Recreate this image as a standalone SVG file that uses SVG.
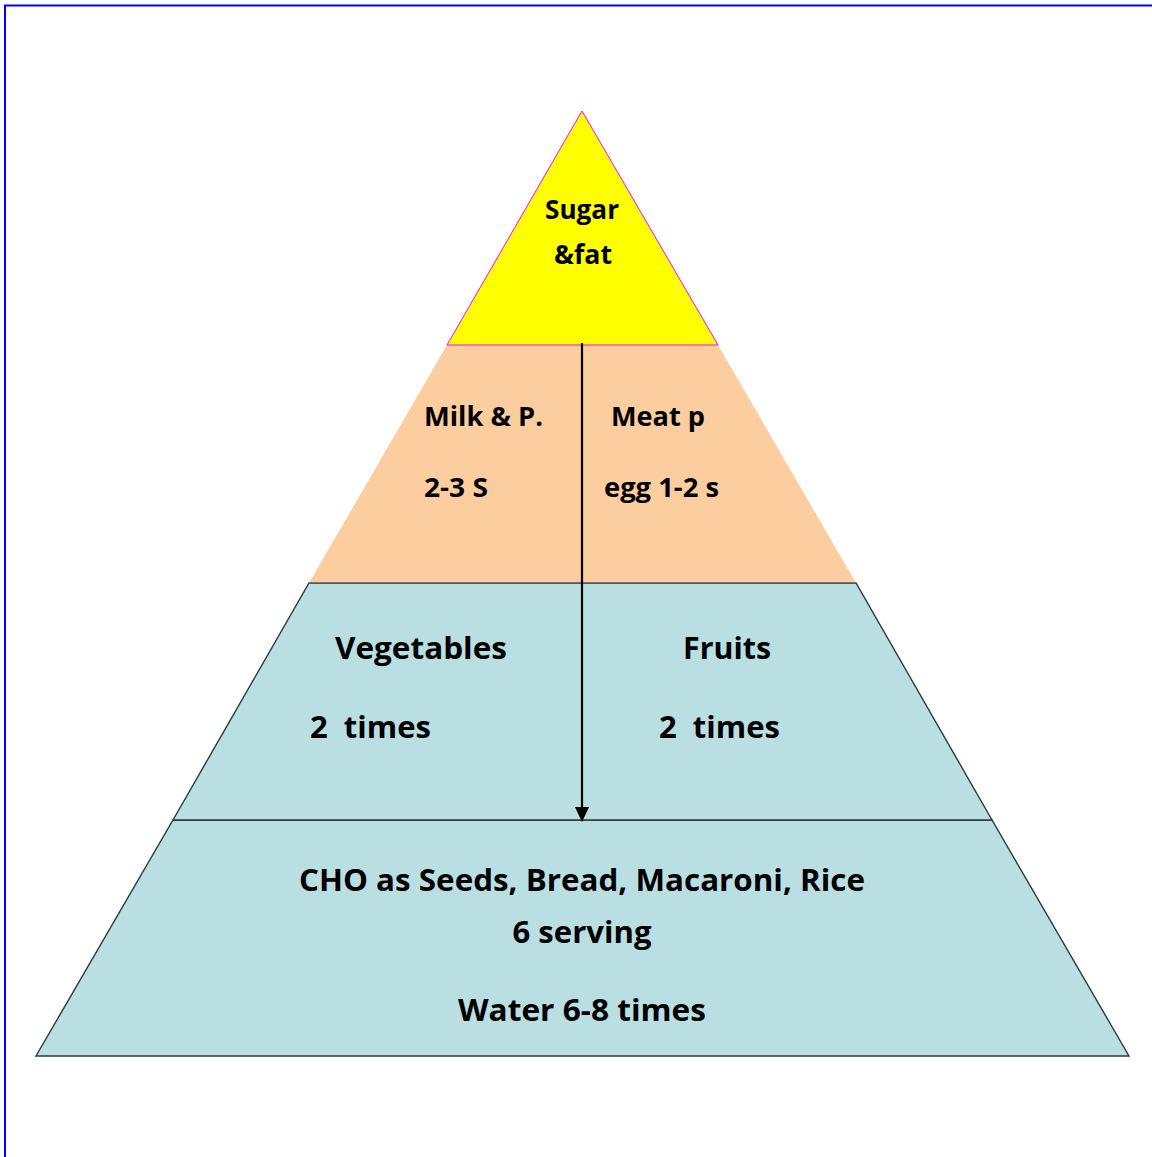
<svg xmlns="http://www.w3.org/2000/svg" width="1152" height="1157" viewBox="0 0 1152 1157" xml:space="preserve">
<style>
  .t { font-family: "Open Sans", "Liberation Sans", sans-serif; font-weight: bold; fill: #000; white-space: pre; }
  .s24 { font-size: 26px; }
  .s28 { font-size: 30px; }
  .tier { stroke: #2b3a3a; stroke-width: 1.4; }
</style>
<rect width="1152" height="1157" fill="#ffffff"/>
<path d="M5,1157 V5.5 H1152" fill="none" stroke="#0000ff" stroke-width="2"/>

<g id="tier-bottom">
  <polygon class="tier" points="173,820 992,820 1129,1056 36,1056" fill="#b9dfe2"/>
  <text class="t s28" x="582" y="891" text-anchor="middle" textLength="566" lengthAdjust="spacingAndGlyphs">CHO as Seeds, Bread, Macaroni, Rice</text>
  <text class="t s28" x="582" y="943" text-anchor="middle" textLength="139" lengthAdjust="spacingAndGlyphs">6 serving</text>
  <text class="t s28" x="582" y="1021" text-anchor="middle" textLength="248" lengthAdjust="spacingAndGlyphs">Water 6-8 times</text>
</g>

<g id="tier-veg-fruits">
  <polygon class="tier" points="309,583 856,583 992,820 173,820" fill="#b9dfe2"/>
  <text class="t s28" x="335" y="659" textLength="172" lengthAdjust="spacingAndGlyphs">Vegetables</text>
  <text class="t s28" x="310" y="738" textLength="121" lengthAdjust="spacingAndGlyphs">2  times</text>
  <text class="t s28" x="683" y="659" textLength="88" lengthAdjust="spacingAndGlyphs">Fruits</text>
  <text class="t s28" x="659" y="738" textLength="121" lengthAdjust="spacingAndGlyphs">2  times</text>
</g>

<g id="tier-milk-meat">
  <polygon points="447,345 718,345 856,583 309,583" fill="#fccd9e"/>
  <line x1="309" y1="583" x2="856" y2="583" stroke="#4a5a5c" stroke-width="1.4"/>
  <text class="t s24" x="424" y="426" textLength="119" lengthAdjust="spacingAndGlyphs">Milk &amp; P.</text>
  <text class="t s24" x="424" y="497" textLength="64" lengthAdjust="spacingAndGlyphs">2-3 S</text>
  <text class="t s24" x="611" y="426" textLength="94" lengthAdjust="spacingAndGlyphs">Meat p</text>
  <text class="t s24" x="604" y="497" textLength="115" lengthAdjust="spacingAndGlyphs">egg 1-2 s</text>
</g>

<g id="tier-top">
  <polygon points="582,111 718,345 447,345" fill="#ffff00" stroke="#ff00ff" stroke-width="1"/>
  <text class="t s24" x="582" y="219" text-anchor="middle" textLength="74" lengthAdjust="spacingAndGlyphs">Sugar</text>
  <text class="t s24" x="583" y="264" text-anchor="middle" textLength="58" lengthAdjust="spacingAndGlyphs">&amp;fat</text>
</g>

<g id="connectors">
  <line x1="582" y1="343" x2="582" y2="810" stroke="#000" stroke-width="2.2"/>
  <polygon points="575,807 589,807 582,822" fill="#000"/>
</g>
</svg>
